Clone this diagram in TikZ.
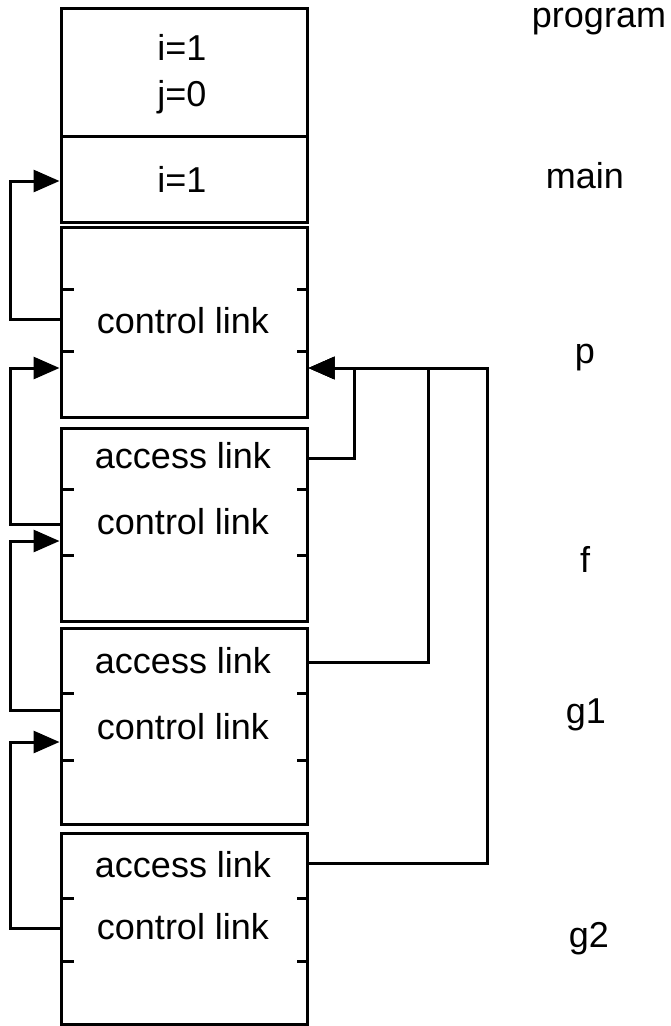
\documentclass[tikz,border=0pt]{standalone}
\usepackage{fontspec}
\setmainfont{Liberation Sans}
\usetikzlibrary{arrows.meta}

\begin{document}
\begin{tikzpicture}[x=1pt, y=-1pt, line width=3pt,
    frame/.style={draw, minimum width=246pt, inner sep=0pt},
    txt/.style={font=\fontsize{36}{44}\selectfont, inner sep=0pt, anchor=base},
    link/.style={-{Triangle[length=26pt,width=22pt]}}]
  \useasboundingbox (0,0) rectangle (671,1026);
  % activation records
  \node[frame, minimum height=128pt] (program) at (184,72) {};
  \node[frame, minimum height=86pt] (main) at (184,179) {};
  \node[frame, minimum height=190pt] (p) at (184,322) {};
  \node[frame, minimum height=193pt] (f) at (184,524.5) {};
  \node[frame, minimum height=196pt] (g1) at (184,726) {};
  \node[frame, minimum height=191pt] (g2) at (184,928.5) {};
  % field separators
  \foreach \y in {289,351,489,555,693,760,898,961} {
    \draw (61,\y) -- ++(13,0);
    \draw (307,\y) -- ++(-10,0);
  }
  % contents
  \node[txt] (prog-i) at (182,60) {i=1};
  \node[txt] (prog-j) at (182,106) {j=0};
  \node[txt] (main-i) at (182,192) {i=1};
  \node[txt] (p-ctl) at (183,333) {control link};
  \node[txt] (f-acc-t) at (183,468) {access link};
  \node[txt] (f-ctl) at (183,534) {control link};
  \node[txt] (g1-acc-t) at (183,673) {access link};
  \node[txt] (g1-ctl) at (183,739) {control link};
  \node[txt] (g2-acc-t) at (183,877) {access link};
  \node[txt] (g2-ctl) at (183,939) {control link};
  % record names
  \node[txt] (l-program) at (599,27) {program};
  \node[txt] (l-main) at (585,188) {main};
  \node[txt] (l-p) at (585,363) {p};
  \node[txt] (l-f) at (585,572) {f};
  \node[txt] (l-g1) at (586,723) {g1};
  \node[txt] (l-g2) at (589,947) {g2};
  % link ends
  \coordinate (main-in) at (main.west |- 0,181);
  \coordinate (p-out) at (p.west |- 0,319);
  \coordinate (p-in) at (p.west |- 0,368);
  \coordinate (p-rin) at (p.east |- 0,368);
  \coordinate (f-acc) at (f.east |- 0,458);
  \coordinate (f-out) at (f.west |- 0,524);
  \coordinate (f-in) at (f.west |- 0,541);
  \coordinate (g1-acc) at (g1.east |- 0,662);
  \coordinate (g1-out) at (g1.west |- 0,710);
  \coordinate (g1-in) at (g1.west |- 0,742);
  \coordinate (g2-acc) at (g2.east |- 0,863);
  \coordinate (g2-out) at (g2.west |- 0,928);
  % control links
  \draw[link] (p-out) -- ++(-49,0) |- (main-in);
  \draw[link] (f-out) -- ++(-49,0) |- (p-in);
  \draw[link] (g1-out) -- ++(-49,0) |- (f-in);
  \draw[link] (g2-out) -- ++(-49,0) |- (g1-in);
  % access links
  \draw[link] (f-acc) -- ++(46,0) |- (p-rin);
  \draw[link] (g1-acc) -- ++(120,0) |- (p-rin);
  \draw[link] (g2-acc) -- ++(179,0) |- (p-rin);
\end{tikzpicture}
\end{document}
